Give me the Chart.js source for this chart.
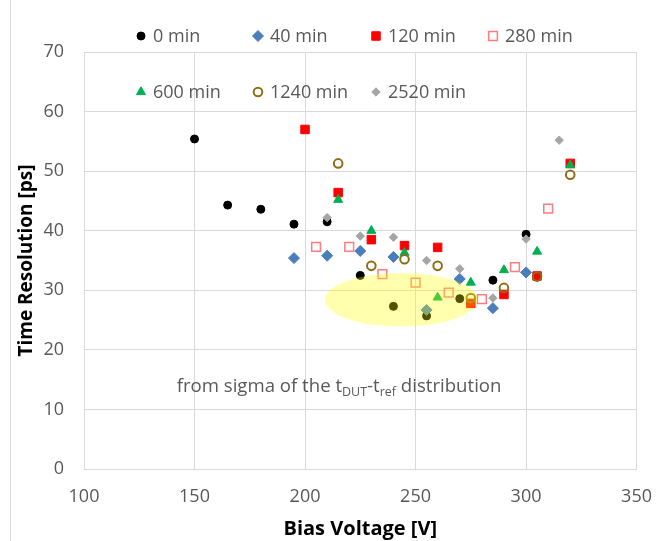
<!DOCTYPE html>
<html>
<head>
<meta charset="utf-8">
<script src="https://cdn.jsdelivr.net/npm/chart.js@4.4.0/dist/chart.umd.min.js"></script>
<style>
  html, body { margin: 0; padding: 0; background: #fff; }
  #wrap { width: 669px; height: 541px; position: relative; }
</style>
</head>
<body>
<div id="wrap"><canvas id="chart" width="669" height="541"></canvas></div>
<script>
// bias voltage [V] and time resolution [ps] per annealing time
var v0    = [150, 165, 180, 195, 210, 225, 240, 255, 270, 285, 300];
var t0    = [55.4, 44.3, 43.6, 41.1, 41.5, 32.5, 27.3, 25.7, 28.6, 31.7, 39.4];
var v40   = [195, 210, 225, 240, 255, 270, 285, 300];
var t40   = [35.4, 35.8, 36.6, 35.6, 26.7, 31.9, 27.0, 33.0];
var v120  = [200, 215, 230, 245, 260, 275, 290, 305, 320];
var t120  = [57.0, 46.4, 38.5, 37.5, 37.2, 27.8, 29.3, 32.4, 51.3];
var v280  = [205, 220, 235, 250, 265, 280, 295, 310];
var t280  = [37.3, 37.3, 32.7, 31.3, 29.6, 28.5, 33.9, 43.7];
var v600  = [215, 230, 245, 260, 275, 290, 305, 320];
var t600  = [45.2, 40.0, 36.3, 28.8, 31.3, 33.4, 36.5, 51.0];
var v1240 = [215, 230, 245, 260, 275, 290, 305, 320];
var t1240 = [51.3, 34.1, 35.2, 34.1, 28.7, 30.4, 32.3, 49.4];
var v2520 = [210, 225, 240, 255, 270, 285, 300, 315];
var t2520 = [42.2, 39.1, 38.9, 35.0, 33.6, 28.7, 38.6, 55.2];

var seriesNames = ['0 min', '40 min', '120 min', '280 min', '600 min', '1240 min', '2520 min'];
var xTicks = [100, 150, 200, 250, 300, 350];
var yTicks = [0, 10, 20, 30, 40, 50, 60, 70];

var FONT = '"Open Sans", "Noto Sans", sans-serif';
var GRID = '#d9d9d9';
var TEXT = '#595959';

function pts(xs, ys) {
	return xs.map(function(x, i) { return {x: x, y: ys[i]}; });
}

var styles = [
	{style: 'circle',  radius: 4,   fill: '#000000', stroke: '#000000', bw: 1},
	{style: 'rectRot', radius: 5.5, fill: '#4a7ebb', stroke: '#4a7ebb', bw: 1},
	{style: 'rect',    radius: 6,   fill: '#ff0000', stroke: '#ff0000', bw: 1},
	{style: 'rect',    radius: 6.2, fill: 'rgba(0,0,0,0)', stroke: '#ff7c80', bw: 1.5},
	{style: 'triangle',radius: 5.2, fill: '#00b050', stroke: '#00b050', bw: 1},
	{style: 'circle',  radius: 4.3, fill: 'rgba(0,0,0,0)', stroke: '#8f6d14', bw: 2},
	{style: 'rectRot', radius: 4.2, fill: '#a5a5a5', stroke: '#a5a5a5', bw: 1}
];

var seriesData = [pts(v0, t0), pts(v40, t40), pts(v120, t120), pts(v280, t280),
	pts(v600, t600), pts(v1240, t1240), pts(v2520, t2520)];

var datasets = seriesData.map(function(d, i) {
	var s = styles[i];
	return {
		label: seriesNames[i],
		data: d,
		pointStyle: s.style,
		pointRadius: s.radius,
		pointHoverRadius: s.radius,
		backgroundColor: s.fill,
		borderColor: s.stroke,
		borderWidth: s.bw,
		pointBorderWidth: s.bw,
		order: seriesNames.length - i,  // later series sit on top
		showLine: false
	};
});

// marker shapes for the hand-drawn legend
function marker(ctx, s, x, y) {
	var r = s.radius;
	ctx.save();
	ctx.fillStyle = s.fill;
	ctx.strokeStyle = s.stroke;
	ctx.lineWidth = s.bw;
	ctx.beginPath();
	if (s.style === 'circle') {
		ctx.arc(x, y, r, 0, Math.PI * 2);
	} else if (s.style === 'rect') {
		var h = r * Math.SQRT1_2;
		ctx.rect(x - h, y - h, 2 * h, 2 * h);
	} else if (s.style === 'rectRot') {
		ctx.moveTo(x, y - r); ctx.lineTo(x + r, y); ctx.lineTo(x, y + r); ctx.lineTo(x - r, y);
		ctx.closePath();
	} else if (s.style === 'triangle') {
		var a = Math.PI * 2 / 3;
		ctx.moveTo(x, y - r);
		ctx.lineTo(x + Math.sin(a) * r, y - Math.cos(a) * r);
		ctx.lineTo(x + Math.sin(2 * a) * r, y - Math.cos(2 * a) * r);
		ctx.closePath();
	}
	ctx.fill();
	ctx.stroke();
	ctx.restore();
}

var extras = {
	id: 'extras',
	beforeDraw: function(chart) {
		var ctx = chart.ctx;
		ctx.save();
		ctx.fillStyle = '#fff';
		ctx.fillRect(0, 0, chart.width, chart.height);
		ctx.strokeStyle = GRID;
		ctx.lineWidth = 1;
		ctx.beginPath();
		ctx.moveTo(10.5, 0);
		ctx.lineTo(10.5, chart.height);
		ctx.stroke();
		ctx.restore();
	},
	afterDatasetsDraw: function(chart) {
		var ctx = chart.ctx, xs = chart.scales.x, ys = chart.scales.y;
		// highlighted region around the minimum
		var cx = xs.getPixelForValue(243.5), cy = ys.getPixelForValue(28.4);
		var rx = xs.getPixelForValue(243.5 + 34.5) - cx;
		var ry = cy - ys.getPixelForValue(28.4 + 4.5);
		ctx.save();
		ctx.fillStyle = 'rgba(255,255,0,0.32)';
		ctx.beginPath();
		ctx.ellipse(cx, cy, rx, ry, 0, 0, Math.PI * 2);
		ctx.fill();
		ctx.restore();
	},
	afterDraw: function(chart) {
		var ctx = chart.ctx, xs = chart.scales.x, ys = chart.scales.y;
		ctx.save();
		// legend, two rows
		ctx.font = '18px ' + FONT;
		ctx.fillStyle = TEXT;
		ctx.textBaseline = 'middle';
		ctx.textAlign = 'left';
		var cols = [141, 258, 376, 493], rows = [36, 92];
		seriesNames.forEach(function(name, i) {
			var mx = cols[i % 4], my = rows[Math.floor(i / 4)];
			marker(ctx, styles[i], mx, my);
			ctx.fillStyle = TEXT;
			ctx.fillText(name, mx + 12, my + 1);
		});

		// note with subscripts
		var y = ys.getPixelForValue(13.8);
		var parts = [
			['from sigma of the t', 0], ['DUT', 1], ['-t', 0], ['ref', 1], [' distribution', 0]
		];
		var big = '18.6px ' + FONT, small = '12.5px ' + FONT;
		var total = 0;
		parts.forEach(function(p) {
			ctx.font = p[1] ? small : big;
			total += ctx.measureText(p[0]).width;
		});
		var x = xs.getPixelForValue(215.4) - total / 2;
		ctx.fillStyle = TEXT;
		parts.forEach(function(p) {
			ctx.font = p[1] ? small : big;
			ctx.fillText(p[0], x, p[1] ? y + 6 : y);
			x += ctx.measureText(p[0]).width;
		});
		ctx.restore();
	}
};

new Chart(document.getElementById('chart'), {
	type: 'scatter',
	data: {datasets: datasets},
	plugins: [extras],
	options: {
		responsive: false,
		animation: false,
		events: [],
		layout: {padding: {left: 0, top: 52, right: 29, bottom: 0}},
		plugins: {legend: {display: false}, tooltip: {enabled: false}},
		scales: {
			x: {
				type: 'linear',
				min: 100, max: 350,
				afterBuildTicks: function(s) { s.ticks = xTicks.map(function(v) { return {value: v}; }); },
				afterFit: function(s) { s.height = 72; },
				grid: {color: GRID, drawTicks: false},
				border: {color: GRID},
				ticks: {color: TEXT, font: {family: FONT, size: 18}, padding: 17, maxRotation: 0},
				title: {display: true, text: 'Bias Voltage [V]', color: '#000',
					font: {family: FONT, size: 20, weight: 'bold'}, padding: {top: 0, bottom: 0}}
			},
			y: {
				min: 0, max: 70,
				afterBuildTicks: function(s) { s.ticks = yTicks.map(function(v) { return {value: v}; }); },
				afterFit: function(s) { s.width = 84; },
				grid: {color: GRID, drawTicks: false},
				border: {color: GRID},
				ticks: {color: TEXT, font: {family: FONT, size: 18}, padding: 20},
				title: {display: true, text: 'Time Resolution [ps]', color: '#000',
					font: {family: FONT, size: 19, weight: 'bold'}, padding: {top: 15, bottom: 0}}
			}
		}
	}
});
</script>
</body>
</html>
